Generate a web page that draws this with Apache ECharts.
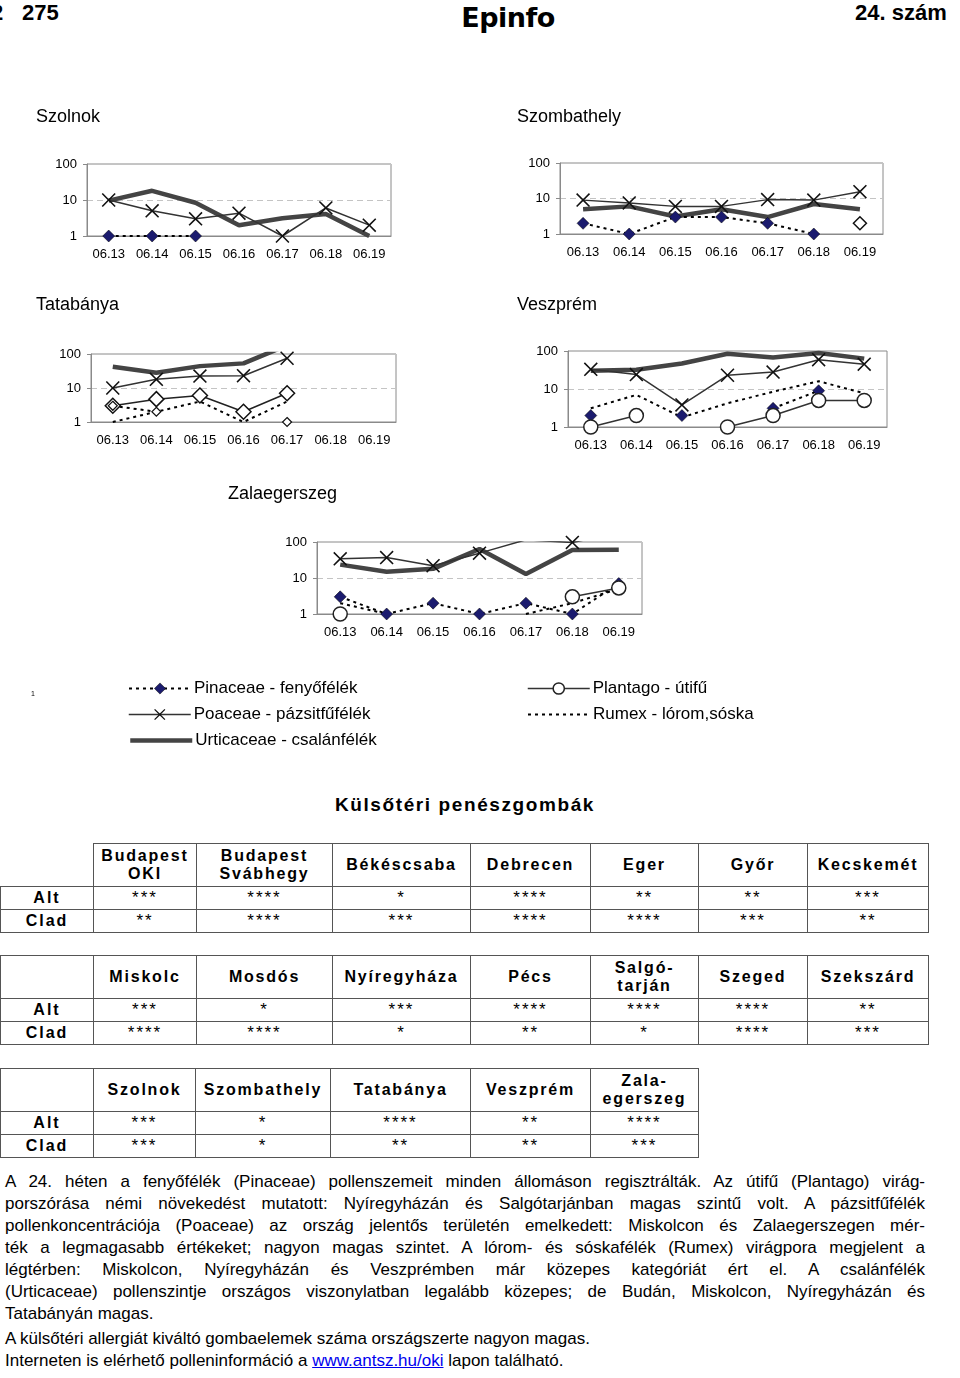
<!DOCTYPE html>
<html>
<head>
<meta charset="utf-8">
<script src="https://cdn.jsdelivr.net/npm/echarts@6/dist/echarts.min.js"></script>
<style>
body{margin:0;width:960px;height:1378px;position:relative;background:#fff;font-family:"Liberation Sans",Arial,sans-serif;color:#000;overflow:hidden}
#chart{position:absolute;left:0;top:0;width:960px;height:770px}
.hd{position:absolute;font-family:"Liberation Sans Narrow","Liberation Sans",sans-serif;font-weight:bold;font-size:22px;line-height:26px}
#epinfo{position:absolute;left:440px;top:0;width:136px;text-align:center;font-family:"DejaVu Sans",sans-serif;font-weight:900;font-size:27px;line-height:36px;letter-spacing:-0.5px}
#fungi{position:absolute;left:0;top:794px;width:930px;text-align:center;font-weight:bold;font-size:19px;letter-spacing:1.6px}
table.t{position:absolute;left:0;border-collapse:collapse;table-layout:fixed}
table.t td{border:1.5px solid #555;text-align:center;padding:0;font-size:17px;letter-spacing:2px;line-height:16px}
table.t tr.h td{height:42px;font-weight:bold;font-size:16px;letter-spacing:1.8px;line-height:18px}
table.t tr.r td{height:22px}
table.t td.lab{font-weight:bold;font-size:16px;letter-spacing:2px}
#text{position:absolute;left:5px;top:1171px;width:920px;font-size:17px;line-height:22px}
#text .j{text-align:justify;text-align-last:justify}
#text a{color:#0000ee;text-decoration:underline}
</style>
</head>
<body>
<div class="hd" style="left:-9px;top:0">2</div>
<div class="hd" style="left:22px;top:0">275</div>
<div id="epinfo">Epinfo</div>
<div class="hd" style="left:855px;top:0">24. szám</div>
<div id="chart"></div>
<div style="position:absolute;left:31px;top:690px;font-size:7px">1</div>
<div id="fungi">Külsőtéri penészgombák</div>
<div id="tables"></div>
<div id="text">
<div class="j">A 24. héten a fenyőfélék (Pinaceae) pollenszemeit minden állomáson regisztrálták. Az útifű (Plantago) virág-</div>
<div class="j">porszórása némi növekedést mutatott: Nyíregyházán és Salgótarjánban magas szintű volt. A pázsitfűfélék</div>
<div class="j">pollenkoncentrációja (Poaceae) az ország jelentős területén emelkedett: Miskolcon és Zalaegerszegen mér-</div>
<div class="j">ték a legmagasabb értékeket; nagyon magas szintet. A lórom- és sóskafélék (Rumex) virágpora megjelent a</div>
<div class="j">légtérben: Miskolcon, Nyíregyházán és Veszprémben már közepes kategóriát ért el. A csalánfélék</div>
<div class="j">(Urticaceae) pollenszintje országos viszonylatban legalább közepes; de Budán, Miskolcon, Nyíregyházán és</div>
<div>Tatabányán magas.</div>
<div style="margin-top:3px">A külsőtéri allergiát kiváltó gombaelemek száma országszerte nagyon magas.</div>
<div>Interneten is elérhető polleninformáció a <a>www.antsz.hu/oki</a> lapon található.</div>
</div>
<script>
// napok
const dates = ['06.13','06.14','06.15','06.16','06.17','06.18','06.19'];

// Szolnok
const szolnokPinaceae = [1, 1, 1, null, null, null, null];
const szolnokPoaceae = [10, 5, 3, 4.3, 1, 6, 2];
const szolnokUrticaceae = [9.6, 18, 8.4, 2, 3.1, 4.1, 1];

// Szombathely
const szombathelyPinaceae = [2, 1, 3, 3, 2, 1, null];
const szombathelyOpen = [null, null, null, null, null, null, 2];
const szombathelyPoaceae = [9, 7.5, 6, 6, 9.3, 9, 15.5];
const szombathelyUrticaceae = [5, 6, 3.1, 5, 3, 7, 5];

// Tatabánya
const tatabanyaUrticaceae = [42, 28, 44, 53, 180, null, null];
const tatabanyaPoaceae = [10, 18, 22.5, 23, 75, null, null];
const tatabanyaOpen = [3, 4.7, 6, 2, 7, null, null];
const tatabanyaSmall = [3, 2, null, null, 1, null, null];
const tatabanyaRumex = [1, 2, 4, 1, 4, null, null];

// Veszprém
const veszpremUrticaceae = [30, 32, 47, 85, 67, 89, 63];
const veszpremPoaceae = [33, 24, 3.8, 23, 28, 59, 45];
const veszpremRumex = [3.1, 7, 1.8, 4.2, 8.5, 16, 7.7];
const veszpremPinaceae = [2, null, 2, null, 3.1, 9, null];
const veszpremPlantago = [1, 2, null, 1, 2, 5, 5];

// Zalaegerszeg
const zalaPoaceae = [34, 37, 22, 49, 115, 97, 180];
const zalaUrticaceae = [23.5, 15, 18, 64, 13, 60, 61];
const zalaPinaceae = [3, 1, 2, 1, 2, 1, 7];
const zalaRumex = [2, 1, null, null, 1, 2, 5];
const zalaPlantago = [1, null, null, null, null, 3, 5.3];

// penészgombák táblák
const cities1 = ['Budapest<br>OKI', 'Budapest<br>Svábhegy', 'Békéscsaba', 'Debrecen', 'Eger', 'Győr', 'Kecskemét'];
const alt1 = ['***', '****', '*', '****', '**', '**', '***'];
const clad1 = ['**', '****', '***', '****', '****', '***', '**'];
const cities2 = ['Miskolc', 'Mosdós', 'Nyíregyháza', 'Pécs', 'Salgó-<br>tarján', 'Szeged', 'Szekszárd'];
const alt2 = ['***', '*', '***', '****', '****', '****', '**'];
const clad2 = ['****', '****', '*', '**', '*', '****', '***'];
const cities3 = ['Szolnok', 'Szombathely', 'Tatabánya', 'Veszprém', 'Zala-<br>egerszeg'];
const alt3 = ['***', '*', '****', '**', '****'];
const clad3 = ['***', '*', '**', '**', '***'];

const FONT = '"Liberation Sans", Arial, sans-serif';
const X_PATH = 'path://M0,0.8 L0.8,0 L5,4.2 L9.2,0 L10,0.8 L5.8,5 L10,9.2 L9.2,10 L5,5.8 L0.8,10 L0,9.2 L4.2,5 Z';

const N_PIN = 'Pinaceae - fenyőfélék';
const N_POA = 'Poaceae - pázsitfűfélék';
const N_URT = 'Urticaceae - csalánfélék';
const N_PLA = 'Plantago - útifű';
const N_RUM = 'Rumex - lórom,sóska';

const styles = {
    pin: {symbol:'diamond', symbolSize:12, itemStyle:{color:'#1b1b6e', borderColor:'#000', borderWidth:0.5}, lineStyle:{color:'#000', width:2, type:[3,4]}},
    poa: {symbol:X_PATH, symbolSize:14, itemStyle:{color:'#111'}, lineStyle:{color:'#333', width:1.5}},
    urt: {symbol:'none', itemStyle:{color:'#444'}, lineStyle:{color:'#444', width:4.5}},
    pla: {symbol:'circle', symbolSize:14, itemStyle:{color:'#fff', borderColor:'#222', borderWidth:1.5}, lineStyle:{color:'#333', width:1.5}},
    rum: {symbol:'none', itemStyle:{color:'#000'}, lineStyle:{color:'#000', width:2, type:[3,4]}},
    open: {symbol:'diamond', symbolSize:15, itemStyle:{color:'#fff', borderColor:'#111', borderWidth:1.5}, lineStyle:{color:'#222', width:1.5}},
    small: {symbol:'diamond', symbolSize:9, itemStyle:{color:'#fff', borderColor:'#111', borderWidth:1.2}, lineStyle:{color:'#000', width:2, type:[3,4]}},
    openOnly: {symbol:'diamond', symbolSize:13, itemStyle:{color:'#fff', borderColor:'#111', borderWidth:1.5}, lineStyle:{width:0}}
};

const grids = [
    {left:87, top:164, width:304, height:72},
    {left:560, top:163, width:323, height:71},
    {left:91, top:354, width:305, height:68},
    {left:568, top:351, width:319, height:76},
    {left:317, top:542, width:325, height:72}
];

const titles = [
    {text:'Szolnok', left:36, top:108},
    {text:'Szombathely', left:517, top:108},
    {text:'Tatabánya', left:36, top:296},
    {text:'Veszprém', left:517, top:296},
    {text:'Zalaegerszeg', left:228, top:485}
];

function mk(name, g, data, st){
    return Object.assign({
        name:name,
        type:'line',
        xAxisIndex:g,
        yAxisIndex:g,
        data:data,
        connectNulls:false,
        animation:false,
        z: st === styles.urt ? 2 : 3
    }, JSON.parse(JSON.stringify(st)), {symbol: st.symbol});
}

// jelmagyarázat: jel nélküli vonalaknál a jelet elrejtjük
function legendOnly(name, st, hideSymbol){
    let s = mk(name, 0, [], st);
    if (hideSymbol) s.itemStyle.opacity = 0;
    return s;
}

let series = [
    legendOnly(N_PIN, styles.pin, false),
    legendOnly(N_POA, styles.poa, false),
    legendOnly(N_URT, styles.urt, true),
    legendOnly(N_PLA, styles.pla, false),
    legendOnly(N_RUM, styles.rum, true),

    mk(N_URT, 0, szolnokUrticaceae, styles.urt),
    mk(N_POA, 0, szolnokPoaceae, styles.poa),
    mk(N_PIN, 0, szolnokPinaceae, styles.pin),

    mk(N_URT, 1, szombathelyUrticaceae, styles.urt),
    mk(N_POA, 1, szombathelyPoaceae, styles.poa),
    mk(N_PIN, 1, szombathelyPinaceae, styles.pin),
    mk('Szombathely-x', 1, szombathelyOpen, styles.openOnly),

    mk(N_URT, 2, tatabanyaUrticaceae, styles.urt),
    mk(N_POA, 2, tatabanyaPoaceae, styles.poa),
    mk('Tatabánya-a', 2, tatabanyaOpen, styles.open),
    mk(N_RUM, 2, tatabanyaRumex, styles.rum),
    mk('Tatabánya-b', 2, tatabanyaSmall, styles.small),

    mk(N_URT, 3, veszpremUrticaceae, styles.urt),
    mk(N_POA, 3, veszpremPoaceae, styles.poa),
    mk(N_RUM, 3, veszpremRumex, styles.rum),
    mk(N_PIN, 3, veszpremPinaceae, styles.pin),
    mk(N_PLA, 3, veszpremPlantago, styles.pla),

    mk(N_URT, 4, zalaUrticaceae, styles.urt),
    mk(N_POA, 4, zalaPoaceae, styles.poa),
    mk(N_RUM, 4, zalaRumex, styles.rum),
    mk(N_PIN, 4, zalaPinaceae, styles.pin),
    mk(N_PLA, 4, zalaPlantago, styles.pla)
];

function legendItem(name, left, top){
    return {
        data:[name], left:left, top:top, orient:'vertical', padding:0,
        itemWidth:62, itemHeight:14, itemGap:0, selectedMode:false,
        lineStyle:{width:'inherit'},
        itemStyle:{borderWidth:'inherit', opacity:'inherit'},
        textStyle:{fontSize:17, fontFamily:FONT, color:'#000', padding:[0,0,0,-2]}
    };
}

let myChart = echarts.init(document.getElementById('chart'));
myChart.setOption({
    animation:false,
    title: titles.map(t => ({text:t.text, left:t.left, top:t.top, padding:0,
        textStyle:{fontSize:18, fontWeight:'normal', fontFamily:FONT, color:'#000'}})),
    legend:[
        legendItem(N_PIN, 128, 680),
        legendItem(N_POA, 128, 706),
        legendItem(N_URT, 128, 732),
        legendItem(N_PLA, 527, 680),
        legendItem(N_RUM, 527, 706)
    ],
    grid: grids.map(g => Object.assign({show:true, borderColor:'#8a8a8a', borderWidth:1, containLabel:false}, g)),
    xAxis: grids.map((g, i) => ({
        gridIndex:i, type:'category', data:dates, boundaryGap:true,
        axisLine:{lineStyle:{color:'#8a8a8a'}},
        axisTick:{length:4, lineStyle:{color:'#8a8a8a'}},
        axisLabel:{color:'#000', fontSize:13, fontFamily:FONT, margin:12, interval:0},
        splitLine:{show:false}
    })),
    yAxis: grids.map((g, i) => ({
        gridIndex:i, type:'log', logBase:10, min:1, max:100,
        axisLine:{show:true, lineStyle:{color:'#8a8a8a'}},
        axisTick:{show:true, length:4, lineStyle:{color:'#8a8a8a'}},
        axisLabel:{color:'#000', fontSize:13, fontFamily:FONT, margin:10},
        splitLine:{show:true, lineStyle:{color:'#c4c4c4', type:[6,4]}},
        minorTick:{show:false}, minorSplitLine:{show:false}
    })),
    series:series
});

// táblázatok
function buildTable(top, widths, cities, alt, clad, openCorner){
    let cols = widths.map(w => `<col style="width:${w}px">`).join('');
    let total = widths.reduce((a, b) => a + b, 0);
    let head = `<td${openCorner ? ' style="border-top:none;border-left:none"' : ''}></td>` +
        cities.map(c => `<td>${c}</td>`).join('');
    let r1 = '<td class="lab">Alt</td>' + alt.map(s => `<td>${s}</td>`).join('');
    let r2 = '<td class="lab">Clad</td>' + clad.map(s => `<td>${s}</td>`).join('');
    return `<table class="t" style="top:${top}px;width:${total}px"><colgroup>${cols}</colgroup>` +
        `<tr class="h">${head}</tr><tr class="r">${r1}</tr><tr class="r">${r2}</tr></table>`;
}
document.getElementById('tables').innerHTML =
    buildTable(843, [93,103,136,138,120,108,109,121], cities1, alt1, clad1, true) +
    buildTable(955, [93,103,136,138,120,108,109,121], cities2, alt2, clad2, false) +
    buildTable(1068, [93,102,135,140,120,108], cities3, alt3, clad3, false);
</script>
</body>
</html>
